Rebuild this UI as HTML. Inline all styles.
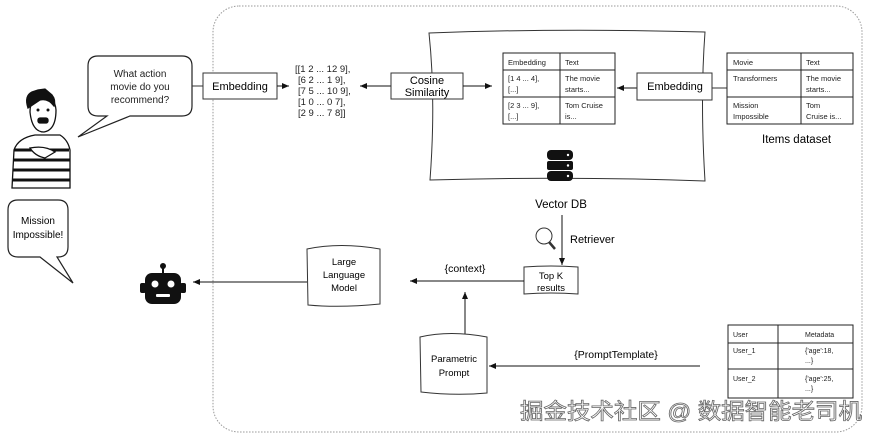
<!DOCTYPE html>
<html><head><style>
body{margin:0;background:#fff;width:876px;height:437px;overflow:hidden}
svg{font-family:"Liberation Sans",sans-serif}
</style></head><body>
<svg width="876" height="437" viewBox="0 0 876 437" xmlns="http://www.w3.org/2000/svg">
<defs><marker id="a" markerWidth="8" markerHeight="8" refX="7" refY="4" orient="auto"><path d="M0,1 L7,4 L0,7z" fill="#111"/></marker></defs>
<rect x="213" y="6" width="649" height="426" rx="26" fill="none" stroke="#999" stroke-dasharray="1.5,1.5"/>
<path d="M98,56 H182 Q192,56 192,66 V106 Q192,116 182,116 H130 L78,137 L107,116 H98 Q88,116 88,106 V66 Q88,56 98,56Z" fill="#fff" stroke="#222" stroke-width="1.2"/>
<text font-size="10" text-anchor="middle" fill="#222"><tspan x="140" y="77">What action</tspan><tspan x="140" y="90">movie do you</tspan><tspan x="140" y="103">recommend?</tspan></text>
<line x1="192" y1="86" x2="203" y2="86" stroke="#333"/>
<rect x="203" y="73" width="74" height="26" fill="#fff" stroke="#333"/>
<text x="240" y="90" font-size="11" text-anchor="middle">Embedding</text>
<line x1="277" y1="86" x2="289" y2="86" stroke="#111" marker-end="url(#a)"/>
<text font-size="9.5" fill="#222"><tspan x="295" y="72">[[1 2 ... 12 9],</tspan><tspan x="298" y="83">[6 2 ... 1 9],</tspan><tspan x="298" y="94">[7 5 ... 10 9],</tspan><tspan x="298" y="105">[1 0 ... 0 7],</tspan><tspan x="298" y="116">[2 9 ... 7 8]]</tspan></text>
<path d="M429,33 Q560,28 705,32 Q700,100 705,181 Q570,176 430,180 Q436,100 429,33Z" fill="#fff" stroke="#333"/>
<line x1="391" y1="86" x2="360" y2="86" stroke="#111" marker-end="url(#a)"/>
<rect x="391" y="73" width="72" height="26" fill="#fff" stroke="#333"/>
<text font-size="11" text-anchor="middle"><tspan x="427" y="84">Cosine</tspan><tspan x="427" y="96">Similarity</tspan></text>
<line x1="463" y1="86" x2="492" y2="86" stroke="#111" marker-end="url(#a)"/>
<g font-size="7.5" fill="#222">
<rect x="503" y="53" width="112" height="71" fill="#fff" stroke="#222"/>
<line x1="560" y1="53" x2="560" y2="124" stroke="#222"/><line x1="503" y1="70" x2="615" y2="70" stroke="#222"/><line x1="503" y1="97" x2="615" y2="97" stroke="#222"/>
<text x="508" y="65">Embedding</text><text x="565" y="65">Text</text>
<text x="508" y="81">[1 4 ... 4],</text><text x="508" y="92">[...]</text><text x="565" y="81">The movie</text><text x="565" y="92">starts...</text>
<text x="508" y="108">[2 3 ... 9],</text><text x="508" y="119">[...]</text><text x="565" y="108">Tom Cruise</text><text x="565" y="119">is...</text>
</g>
<line x1="712" y1="88" x2="727" y2="88" stroke="#333"/>
<line x1="637" y1="88" x2="617" y2="88" stroke="#111" marker-end="url(#a)"/>
<rect x="637" y="73" width="75" height="27" fill="#fff" stroke="#333"/>
<text x="675" y="90" font-size="11" text-anchor="middle">Embedding</text>
<g font-size="7.5" fill="#222">
<rect x="727" y="53" width="126" height="71" fill="#fff" stroke="#222"/>
<line x1="801" y1="53" x2="801" y2="124" stroke="#222"/><line x1="727" y1="70" x2="853" y2="70" stroke="#222"/><line x1="727" y1="97" x2="853" y2="97" stroke="#222"/>
<text x="733" y="65">Movie</text><text x="806" y="65">Text</text>
<text x="733" y="81">Transformers</text><text x="806" y="81">The movie</text><text x="806" y="92">starts...</text>
<text x="733" y="108">Mission</text><text x="733" y="119">Impossible</text><text x="806" y="108">Tom</text><text x="806" y="119">Cruise is...</text>
</g>
<text x="762" y="143" font-size="11.5">Items dataset</text>
<g fill="#111"><rect x="547" y="150" width="26" height="10" rx="4"/><rect x="547" y="161" width="26" height="9" rx="2"/><rect x="547" y="171" width="26" height="10" rx="4"/></g>
<g fill="#fff"><circle cx="568" cy="155" r="1.2"/><circle cx="568" cy="165.5" r="1.2"/><circle cx="568" cy="176" r="1.2"/></g>
<text x="561" y="208" font-size="11.5" text-anchor="middle">Vector DB</text>
<line x1="562" y1="215" x2="562" y2="265" stroke="#111" marker-end="url(#a)"/>
<circle cx="544" cy="236" r="8" fill="none" stroke="#333"/><line x1="549" y1="242" x2="555" y2="249" stroke="#333" stroke-width="2.5"/>
<text x="570" y="243" font-size="11">Retriever</text>
<path d="M524,267 Q551,265 578,267 L578,294 Q551,292 524,294Z" fill="#fff" stroke="#333"/>
<text font-size="9.5" text-anchor="middle"><tspan x="551" y="279">Top K</tspan><tspan x="551" y="291">results</tspan></text>
<line x1="524" y1="281" x2="410" y2="281" stroke="#111" marker-end="url(#a)"/>
<text x="465" y="272" font-size="10.5" text-anchor="middle">{context}</text>
<line x1="465" y1="334" x2="465" y2="292" stroke="#111" marker-end="url(#a)"/>
<path d="M307,249 Q340,242 380,249 L380,304 Q340,308 308,305Z" fill="#fff" stroke="#333"/>
<text font-size="9.5" text-anchor="middle"><tspan x="344" y="265">Large</tspan><tspan x="344" y="278">Language</tspan><tspan x="344" y="291">Model</tspan></text>
<line x1="307" y1="282" x2="193" y2="282" stroke="#111" marker-end="url(#a)"/>
<g fill="#111"><circle cx="163" cy="266" r="3"/><rect x="162" y="266" width="2" height="8"/><rect x="145" y="273" width="36" height="31" rx="7"/><rect x="140" y="283" width="6" height="10" rx="2"/><rect x="180" y="283" width="6" height="10" rx="2"/></g>
<g fill="#fff"><circle cx="155" cy="284" r="3.5"/><circle cx="171" cy="284" r="3.5"/><rect x="156" y="294" width="14" height="3" rx="1"/></g>
<path d="M18,200 H58 Q68,200 68,210 V247 Q68,257 58,257 H57 L73,283 L40,257 H18 Q8,257 8,247 V210 Q8,200 18,200Z" fill="#fff" stroke="#222" stroke-width="1.2"/>
<text font-size="10" text-anchor="middle"><tspan x="38" y="224">Mission</tspan><tspan x="38" y="238">Impossible!</tspan></text>
<g stroke="#111" fill="#fff" stroke-width="1.3">
<path d="M12,188 L14,150 Q18,138 35,135 L60,135 Q68,140 70,150 L70,188Z"/>
<g stroke-width="3"><line x1="14" y1="150" x2="69" y2="150"/><line x1="13" y1="160" x2="70" y2="160"/><line x1="13" y1="170" x2="70" y2="170"/><line x1="12" y1="180" x2="70" y2="180"/></g>
<path d="M30,112 Q30,97 42,96 Q55,96 56,110 Q56,130 44,132 Q32,132 30,112Z"/>
<path d="M28,108 Q24,96 32,92 L38,90 L45,89 L52,95 Q56,100 54,106 Q48,98 40,100 Q34,104 28,108Z" fill="#111"/>
<rect x="38" y="118" width="10" height="5" rx="2" fill="#111"/>
<path d="M30,148 Q45,145 55,152 L45,158 Q35,156 30,148Z"/>
</g>
<circle cx="38" cy="110" r="1.5" fill="#111"/><circle cx="48" cy="110" r="1.5" fill="#111"/>
<path d="M420,337 Q450,330 487,337 L487,393 Q455,396 421,392Z" fill="#fff" stroke="#333"/>
<text font-size="9.5" text-anchor="middle"><tspan x="454" y="362">Parametric</tspan><tspan x="454" y="376">Prompt</tspan></text>
<line x1="700" y1="366" x2="489" y2="366" stroke="#111" marker-end="url(#a)"/>
<text x="616" y="358" font-size="10.5" text-anchor="middle">{PromptTemplate}</text>
<g font-size="7" fill="#222">
<rect x="728" y="325" width="125" height="73" fill="#fff" stroke="#222"/>
<line x1="778" y1="325" x2="778" y2="398" stroke="#222"/><line x1="728" y1="343" x2="853" y2="343" stroke="#222"/><line x1="728" y1="369" x2="853" y2="369" stroke="#222"/>
<text x="733" y="337">User</text><text x="805" y="337">Metadata</text>
<text x="733" y="353">User_1</text><text x="805" y="353">{'age':18,</text><text x="805" y="363">...}</text>
<text x="733" y="381">User_2</text><text x="805" y="381">{'age':25,</text><text x="805" y="391">...}</text>
</g>
<text x="520" y="419" font-size="22" textLength="342" lengthAdjust="spacingAndGlyphs" fill="#fff" stroke="#666" stroke-width="0.8" font-family="'Liberation Sans','Noto Sans CJK SC',sans-serif">掘金技术社区 @ 数据智能老司机</text>
</svg>
</body></html>
